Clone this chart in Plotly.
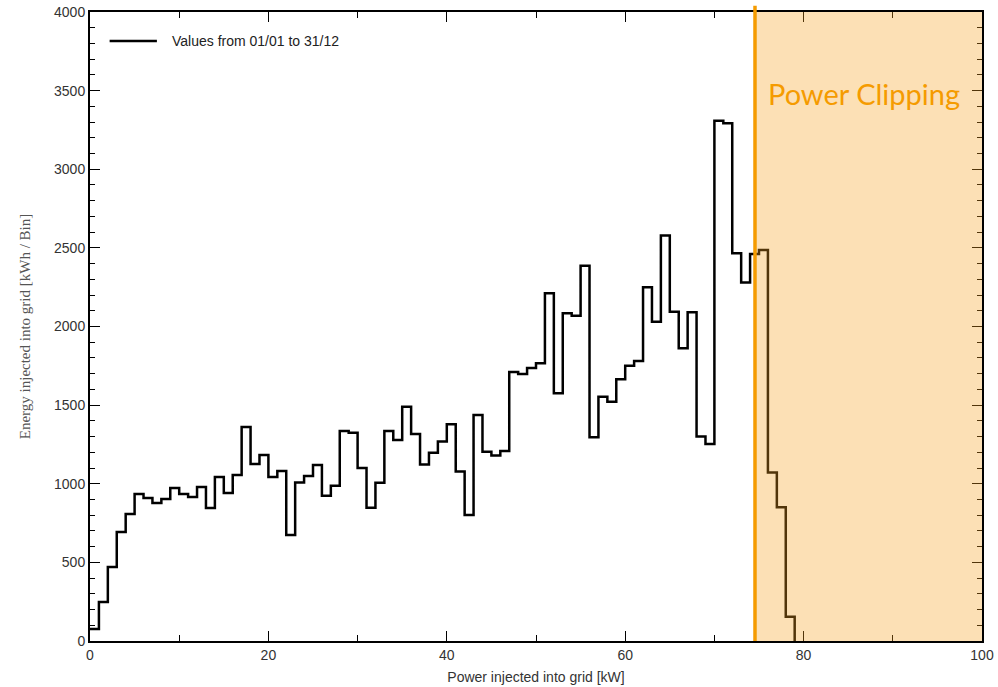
import plotly.graph_objects as go

# Histogram bins (1 kW wide) starting at 0 kW
bin_start = 0
bin_width = 1
energy = [76, 248, 470, 693, 808, 935, 909, 878, 903, 973,
          935, 916, 979, 846, 1043, 941, 1056, 1361, 1126, 1183,
          1043, 1081, 674, 1008, 1050, 1119, 924, 988, 1336, 1325,
          1100, 848, 1007, 1336, 1278, 1490, 1317, 1123, 1197, 1268,
          1378, 1078, 801, 1437, 1204, 1179, 1208, 1711, 1698, 1736,
          1766, 2211, 1575, 2084, 2069, 2387, 1295, 1554, 1522, 1664,
          1751, 1781, 2249, 2031, 2578, 2094, 1861, 2090, 1300, 1253,
          3309, 3292, 2466, 2280, 2461, 2487, 1071, 850, 155]

clip_start = 74.55
x_range = [0, 100]
y_range = [0, 4000]
legend_name = "Values from 01/01 to 31/12"

edges = [bin_start + i * bin_width for i in range(len(energy) + 1)]
yvals = energy + [0]

fig = go.Figure()
fig.add_trace(go.Scatter(
    x=edges, y=yvals, mode="lines", line_shape="hv",
    line=dict(color="black", width=2.5), name=legend_name, showlegend=False,
))

# Legend (drawn manually to match the long line sample)
fig.add_shape(type="line", xref="paper", yref="paper", x0=0.022, x1=0.075, y0=0.954, y1=0.954,
              line=dict(color="black", width=2.5))
fig.add_annotation(x=0.09, y=0.954, xref="paper", yref="paper", text=legend_name,
                   showarrow=False, xanchor="left", yanchor="middle",
                   font=dict(family="Liberation Sans, Arial, sans-serif", size=14, color="#222222"))

# Power clipping shaded region (drawn above the line)
fig.add_shape(type="rect", xref="x", yref="paper", x0=clip_start, x1=x_range[1], y0=0, y1=1,
              fillcolor="rgba(245,160,30,0.33)", line=dict(width=0), layer="above")
fig.add_shape(type="line", xref="x", yref="paper", x0=clip_start, x1=clip_start, y0=0, y1=1.01,
              line=dict(color="#F59B00", width=3.5), layer="above")
fig.add_annotation(x=clip_start + 1.25, y=3480, xref="x", yref="y", text="Power Clipping",
                   showarrow=False, xanchor="left", yanchor="middle",
                   font=dict(family="Lato, Open Sans, sans-serif", size=29, color="#F59B00"))

axis_common = dict(showline=True, linewidth=2, linecolor="black", mirror="ticks",
                   ticks="inside", tickcolor="black", showgrid=False, zeroline=False,
                   automargin=False,
                   tickfont=dict(family="Liberation Sans, Arial, sans-serif", size=14, color="#333333"))

fig.update_xaxes(range=x_range, dtick=20, ticklen=10, tickwidth=1,
                 minor=dict(dtick=10, ticks="inside", ticklen=6, tickcolor="black", tickwidth=1),
                 title=dict(text="Power injected into grid [kW]", standoff=10,
                            font=dict(family="Liberation Sans, Arial, sans-serif", size=14, color="#333333")),
                 **axis_common)
fig.update_yaxes(range=y_range, dtick=500, ticklen=10, tickwidth=1,
                 minor=dict(dtick=100, ticks="inside", ticklen=5, tickcolor="black", tickwidth=1),
                 title=dict(text="Energy injected into grid [kWh / Bin]", standoff=20,
                            font=dict(family="Liberation Serif, Times New Roman, serif", size=15, color="#555555")),
                 **axis_common)

fig.update_layout(
    width=998, height=687,
    margin=dict(l=90, r=16, t=12, b=46),
    plot_bgcolor="white", paper_bgcolor="white",
    showlegend=False,
)

fig.write_html("out.html")
